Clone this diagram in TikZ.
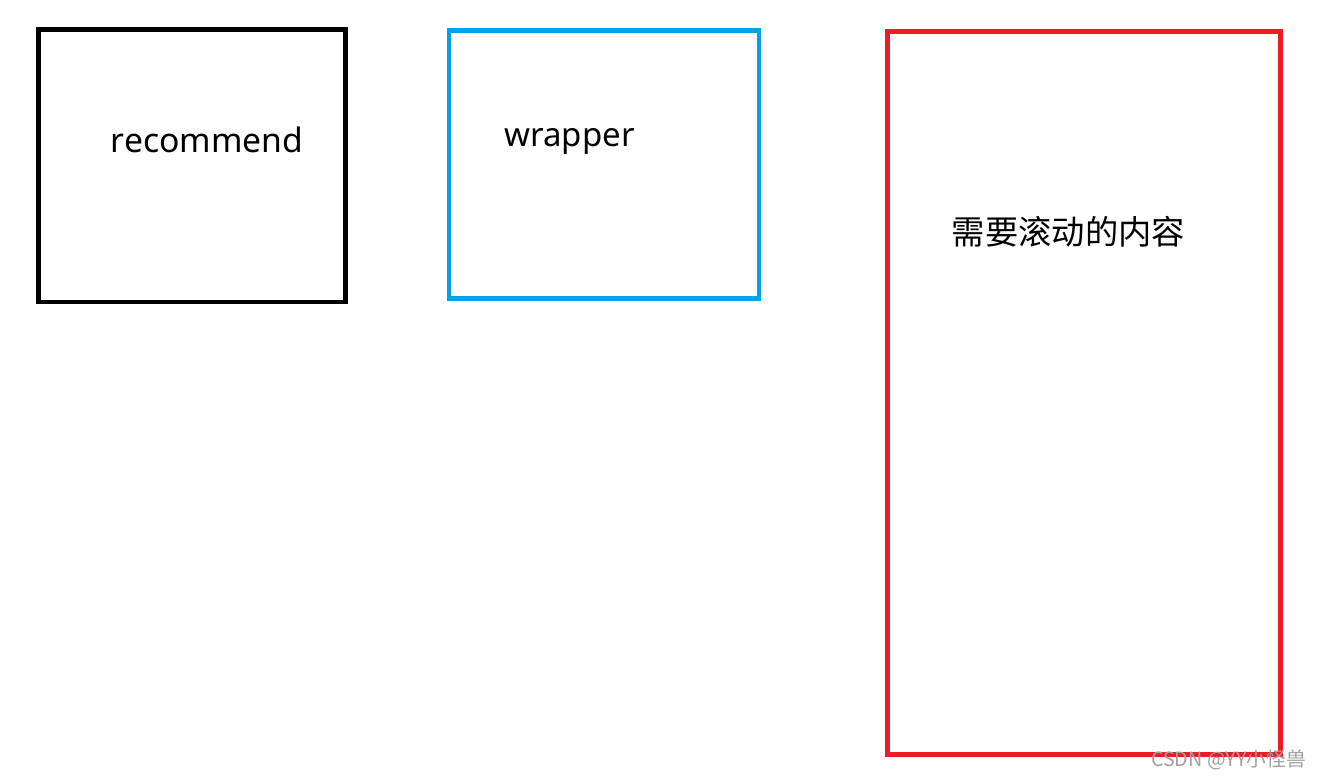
\documentclass[tikz,border=0pt]{standalone}
\usepackage{fontspec}
\setmainfont{Noto Sans}
\newfontfamily\cjkfont{Noto Sans CJK SC}
\definecolor{boxblue}{RGB}{0,162,232}
\definecolor{boxred}{RGB}{237,28,36}
\definecolor{wmgray}{RGB}{160,160,160}
\begin{document}
\begin{tikzpicture}[x=1pt,y=-1pt,
  frame/.style={line width=4.5pt},
  lbl/.style={inner sep=0pt,anchor=base}]
\useasboundingbox[fill=white] (0,0) rectangle (1321,779);
\draw[frame,black] (38.5,29.5) rectangle (345.5,302);
\draw[frame,boxblue] (449,30.5) rectangle (759,298.5);
\draw[frame,boxred] (887.5,31.5) rectangle (1280.5,754.5);
\node[lbl,font=\fontsize{33.7}{40}\selectfont] (rec) at (207,152) {recommend};
\node[lbl,font=\fontsize{33}{40}\selectfont] (wrap) at (569.5,146) {wrapper};
\node[lbl,anchor=center,font=\cjkfont\fontsize{33.3}{40}\selectfont] (scroll) at (1068.5,232) {需要滚动的内容};
\node[lbl,font=\cjkfont\fontsize{19.7}{24}\selectfont,text=wmgray] (wm) at (1228.5,766) {CSDN @YY小怪兽};
\end{tikzpicture}
\end{document}
